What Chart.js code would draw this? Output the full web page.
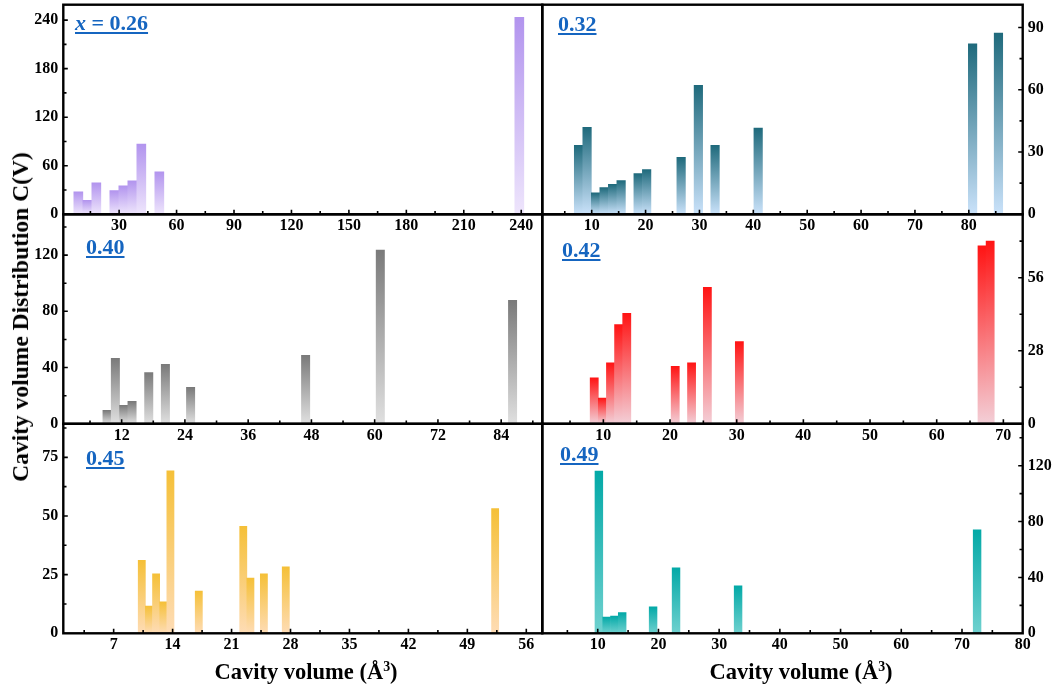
<!DOCTYPE html>
<html>
<head>
<meta charset="utf-8">
<script src="https://cdn.jsdelivr.net/npm/chart.js@4.4.1/dist/chart.umd.min.js"></script>
<style>
  html, body { margin: 0; padding: 0; background: #fff; overflow: hidden; }
  #page { position: relative; width: 1056px; height: 695px; overflow: hidden;
          font-family: "Liberation Serif", "Times New Roman", serif; font-weight: bold; }
  canvas.panel { position: absolute; left: -40px; top: -40px; }
  .tag { position: absolute; color: #1565c0; font-size: 22px; line-height: 22px; white-space: nowrap;
         text-decoration: underline; text-decoration-thickness: 2px; text-underline-offset: 2px; }
  .title { position: absolute; font-size: 22.5px; line-height: 22px; white-space: nowrap; color: #000; }
  .title sup { font-size: 0.62em; line-height: 0; vertical-align: 0.6em; }
  #ytitle { font-size: 23.5px; }
</style>
</head>
<body>
<div id="page">
  <canvas class="panel" id="p26" width="1136" height="775"></canvas>
  <canvas class="panel" id="p32" width="1136" height="775"></canvas>
  <canvas class="panel" id="p40" width="1136" height="775"></canvas>
  <canvas class="panel" id="p42" width="1136" height="775"></canvas>
  <canvas class="panel" id="p45" width="1136" height="775"></canvas>
  <canvas class="panel" id="p49" width="1136" height="775"></canvas>

  <div class="tag" style="left:75px; top:12px;"><i>x</i> = 0.26</div>
  <div class="tag" style="left:558px; top:13px;">0.32</div>
  <div class="tag" style="left:86px; top:236px;">0.40</div>
  <div class="tag" style="left:562px; top:239px;">0.42</div>
  <div class="tag" style="left:86px; top:447px;">0.45</div>
  <div class="tag" style="left:560px; top:443px;">0.49</div>

  <div class="title" id="ytitle" style="left:20px; top:317px; transform: translate(-50%, -50%) rotate(-90deg);">Cavity volume Distribution C(V)</div>
  <div class="title" style="left:306px; top:661px; transform: translateX(-50%);">Cavity volume (Å<sup>3</sup>)</div>
  <div class="title" style="left:801px; top:661px; transform: translateX(-50%);">Cavity volume (Å<sup>3</sup>)</div>
</div>

<script>
// x = 0.26
const vol26 = [8.7, 13.4, 18.1, 27.5, 32.2, 36.9, 41.6, 51.0, 239.0];
const cv26 = [27.7, 17.4, 38.9, 29.4, 35.2, 41.4, 86.9, 52.6, 243.3];
const xTicks26 = [30, 60, 90, 120, 150, 180, 210, 240];
const yTicks26 = [0, 60, 120, 180, 240];

// 0.32
const vol32 = [7.56, 9.14, 10.72, 12.30, 13.88, 15.46, 18.62, 20.20, 26.6, 29.8, 32.9, 40.9, 80.7, 85.5];
const cv32 = [33.2, 41.9, 10.3, 12.9, 14.5, 16.3, 19.6, 21.6, 27.4, 62.2, 33.2, 41.5, 82.1, 87.3];
const xTicks32 = [10, 20, 30, 40, 50, 60, 70, 80];
const yTicks32 = [0, 30, 60, 90];

// 0.40
const vol40 = [9.23, 10.81, 12.39, 13.97, 17.14, 20.3, 25.08, 46.9, 61.07, 86.16];
const cv40 = [9.5, 46.6, 13.1, 15.9, 36.4, 42.3, 25.9, 48.7, 123.6, 87.9];
const xTicks40 = [12, 24, 36, 48, 60, 72, 84];
const yTicks40 = [0, 40, 80, 120];

// 0.42
const vol42 = [8.63, 9.85, 11.07, 12.29, 13.51, 20.78, 23.23, 25.6, 30.4, 66.8, 68.02];
const cv42 = [17.6, 9.9, 23.4, 38.0, 42.3, 22.0, 23.4, 52.3, 31.5, 68.2, 70.0];
const xTicks42 = [10, 20, 30, 40, 50, 60, 70];
const yTicks42 = [0, 28, 56];

// 0.45
const vol45 = [10.34, 11.19, 12.04, 12.89, 13.74, 17.11, 22.39, 23.24, 24.84, 27.44, 52.3];
const cv45 = [31.1, 11.6, 25.3, 13.4, 69.3, 18.0, 45.6, 23.5, 25.3, 28.3, 53.2];
const xTicks45 = [7, 14, 21, 28, 35, 42, 49, 56];
const yTicks45 = [0, 25, 50, 75];

// 0.49
const vol49 = [10.19, 11.47, 12.75, 14.03, 19.12, 22.9, 33.12, 72.49];
const cv49 = [116.2, 11.7, 12.4, 14.8, 19.0, 46.9, 34.0, 74.0];
const xTicks49 = [10, 20, 30, 40, 50, 60, 70, 80];
const yTicks49 = [0, 40, 80, 120];

const panels = [
    { id: "p26", vol: vol26, cv: cv26, xTicks: xTicks26, yTicks: yTicks26, xMin: 0.85, xMax: 251, yMax: 259, row: 0, col: 0, colors: ["#b294ee", "#eee5fc"] },
    { id: "p32", vol: vol32, cv: cv32, xTicks: xTicks32, yTicks: yTicks32, xMin: 0.83, xMax: 90, yMax: 101, row: 0, col: 1, colors: ["#1f6a7c", "#cae2fa"] },
    { id: "p40", vol: vol40, cv: cv40, xTicks: xTicks40, yTicks: yTicks40, xMin: 0.93, xMax: 91.8, yMax: 149, row: 1, col: 0, colors: ["#7a7a7a", "#e0e0e0"] },
    { id: "p42", vol: vol42, cv: cv42, xTicks: xTicks42, yTicks: yTicks42, xMin: 0.84, xMax: 72.9, yMax: 80.3, row: 1, col: 1, colors: ["#ff1414", "#f3cfd7"] },
    { id: "p45", vol: vol45, cv: cv45, xTicks: xTicks45, yTicks: yTicks45, xMin: 1.02, xMax: 57.9, yMax: 89.3, row: 2, col: 0, colors: ["#f5c038", "#fedcb5"] },
    { id: "p49", vol: vol49, cv: cv49, xTicks: xTicks49, yTicks: yTicks49, xMin: 0.87, xMax: 80, yMax: 150, row: 2, col: 1, colors: ["#03a9a7", "#6fd1cf"] },
];

// page geometry of the frames
const OFF = 40, W = 1136, H = 775, YW = 50, XH = 30;
const colEdges = [63.3, 542.3, 1022.7];
const rowEdges = [4.7, 214.3, 423.8, 633.3];

const tickFont = { family: "'Liberation Serif', 'Times New Roman', serif", size: 16, weight: "bold" };

function barFill(p) {
    return (c) => {
        const chart = c.chart;
        if (c.type !== "data" || !chart.chartArea) return p.colors[0];
        const ys = chart.scales.y;
        const top = ys.getPixelForValue(c.parsed.y);
        const base = ys.getPixelForValue(0);
        const g = chart.ctx.createLinearGradient(0, top, 0, base);
        g.addColorStop(0, p.colors[0]);
        g.addColorStop(1, p.colors[1]);
        return g;
    };
}

// box + inward major/minor ticks
const frame = {
    id: "frame",
    afterDatasetsDraw(chart) {
        const { ctx, chartArea: a, scales } = chart;
        const onRight = scales.y.position === "right";
        ctx.save();
        ctx.strokeStyle = "#000";
        ctx.lineWidth = 1.6;

        const marks = (scale) => {
            const vals = scale.ticks.map((t) => t.value);
            const step = vals[1] - vals[0];
            const out = vals.map((v) => [v, 4.5]);
            vals.forEach((v) => out.push([v - step / 2, 3.2]));
            out.push([vals[vals.length - 1] + step / 2, 3.2]);
            return out.filter(([v]) => v > scale.min && v < scale.max);
        };

        ctx.beginPath();
        marks(scales.x).forEach(([v, len]) => {
            const px = scales.x.getPixelForValue(v);
            ctx.moveTo(px, a.bottom);
            ctx.lineTo(px, a.bottom - len);
        });
        marks(scales.y).forEach(([v, len]) => {
            const py = scales.y.getPixelForValue(v);
            if (onRight) {
                ctx.moveTo(a.right, py);
                ctx.lineTo(a.right - len, py);
            } else {
                ctx.moveTo(a.left, py);
                ctx.lineTo(a.left + len, py);
            }
        });
        ctx.stroke();

        ctx.lineWidth = 2.4;
        ctx.strokeRect(a.left, a.top, a.right - a.left, a.bottom - a.top);
        ctx.restore();
    },
};

panels.forEach((p) => {
    const L = colEdges[p.col], R = colEdges[p.col + 1];
    const T = rowEdges[p.row], B = rowEdges[p.row + 1];
    const onRight = p.col === 1;

    const padding = {
        left: onRight ? OFF + L : OFF + L - YW,
        right: onRight ? W - OFF - R - YW : W - OFF - R,
        top: OFF + T,
        bottom: H - OFF - B - XH,
    };

    new Chart(document.getElementById(p.id), {
        type: "bar",
        data: {
            datasets: [
                {
                    data: p.vol.map((v, i) => ({ x: v, y: p.cv[i] })),
                    backgroundColor: barFill(p),
                    borderWidth: 0,
                    barPercentage: 1,
                    categoryPercentage: 1,
                },
            ],
        },
        options: {
            responsive: false,
            animation: false,
            events: [],
            layout: { padding },
            plugins: { legend: { display: false }, tooltip: { enabled: false } },
            scales: {
                x: {
                    type: "linear",
                    min: p.xMin,
                    max: p.xMax,
                    offset: false,
                    grid: { display: false, drawTicks: false },
                    border: { display: false },
                    afterBuildTicks: (s) => { s.ticks = p.xTicks.map((v) => ({ value: v })); },
                    afterFit: (s) => { s.height = XH; },
                    ticks: { padding: 2, color: "#000", font: tickFont, maxRotation: 0, autoSkip: false },
                },
                y: {
                    type: "linear",
                    position: onRight ? "right" : "left",
                    min: 0,
                    max: p.yMax,
                    grid: { display: false, drawTicks: false },
                    border: { display: false },
                    afterBuildTicks: (s) => { s.ticks = p.yTicks.map((v) => ({ value: v })); },
                    afterFit: (s) => { s.width = YW; },
                    ticks: { padding: 5, color: "#000", font: tickFont, autoSkip: false },
                },
            },
        },
        plugins: [frame],
    });
});
</script>
</body>
</html>
